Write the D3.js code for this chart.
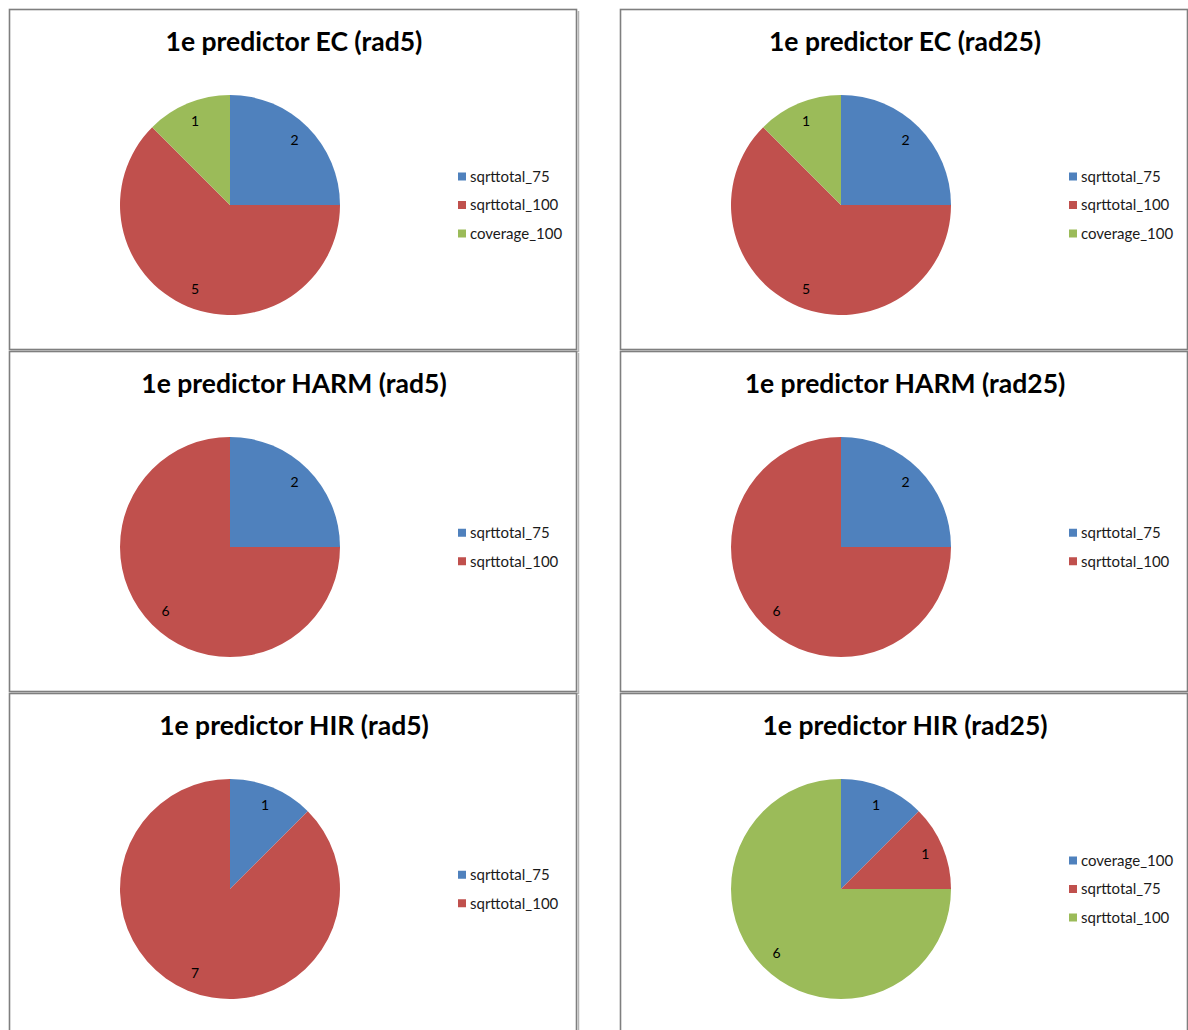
<!DOCTYPE html>
<html>
<head>
<meta charset="utf-8">
<script src="https://cdn.jsdelivr.net/npm/d3@7"></script>
<style>
  body { margin: 0; background: #fff; }
  svg { display: block; }
</style>
</head>
<body>
<svg id="chart" width="1188" height="1030"></svg>
<script>
// chart data, one entry per panel
const titles = [
    "1e predictor EC (rad5)", "1e predictor EC (rad25)",
    "1e predictor HARM (rad5)", "1e predictor HARM (rad25)",
    "1e predictor HIR (rad5)", "1e predictor HIR (rad25)"
];
const categories = [
    ["sqrttotal_75", "sqrttotal_100", "coverage_100"],
    ["sqrttotal_75", "sqrttotal_100", "coverage_100"],
    ["sqrttotal_75", "sqrttotal_100"],
    ["sqrttotal_75", "sqrttotal_100"],
    ["sqrttotal_75", "sqrttotal_100"],
    ["coverage_100", "sqrttotal_75", "sqrttotal_100"]
];
const values = [
    [2, 5, 1],
    [2, 5, 1],
    [2, 6],
    [2, 6],
    [1, 7],
    [1, 1, 6]
];

const sliceColours = ["#4F81BD", "#C0504D", "#9BBB59"];

const svg = d3.select("#chart");

const panelX = [9, 620];
const panelY = [9, 351, 693];
const panelW = 568;
const panelH = 341;
const radius = 110;

const pie = d3.pie().sort(null).value(d => d);
const arc = d3.arc().innerRadius(0).outerRadius(radius);
const labelArc = d3.arc().innerRadius(radius * 0.83).outerRadius(radius * 0.83);

titles.forEach((title, i) => {
    const px = panelX[i % 2];
    const py = panelY[Math.floor(i / 2)];
    const panel = svg.append("g").attr("transform", `translate(${px},${py})`);

    // soft shadow on the right and bottom edges
    panel.append("path")
        .attr("d", `M${panelW + 1.5},2 V${panelH + 1.5} H2`)
        .attr("fill", "none")
        .attr("stroke", "#b5b5b5")
        .attr("stroke-width", 1.5);

    panel.append("rect")
        .attr("x", 0.5).attr("y", 0.5)
        .attr("width", panelW - 1).attr("height", panelH - 1)
        .attr("fill", "#fff")
        .attr("stroke", "#7f7f7f")
        .attr("stroke-width", 1.6);

    panel.append("text")
        .attr("x", panelW / 2 + 1)
        .attr("y", 42)
        .attr("text-anchor", "middle")
        .attr("font-family", "Lato, 'Open Sans', sans-serif")
        .attr("font-weight", "bold")
        .attr("font-size", 26.5)
        .attr("fill", "#000")
        .text(title);

    const pieG = panel.append("g").attr("transform", `translate(221,196)`);
    const arcs = pie(values[i]);

    pieG.selectAll(".slice")
        .data(arcs)
        .join("path")
        .attr("class", "slice")
        .attr("fill", (d, j) => sliceColours[j])
        .attr("d", arc);

    pieG.selectAll(".slice-label")
        .data(arcs)
        .join("text")
        .attr("class", "slice-label")
        .attr("transform", d => `translate(${labelArc.centroid(d)})`)
        .attr("text-anchor", "middle")
        .attr("dy", "0.35em")
        .attr("font-family", "Lato, 'Open Sans', sans-serif")
        .attr("font-size", 14)
        .attr("fill", "#000")
        .text(d => d.data);

    const n = categories[i].length;
    const legendTop = 196 - (n - 1) * 28.5 / 2;
    const legend = panel.selectAll(".legend-item")
        .data(categories[i])
        .join("g")
        .attr("class", "legend-item")
        .attr("transform", (d, j) => `translate(449,${legendTop + j * 28.5})`);

    legend.append("rect")
        .attr("x", 0).attr("y", -4)
        .attr("width", 8).attr("height", 8)
        .attr("fill", (d, j) => sliceColours[j]);

    legend.append("text")
        .attr("x", 12)
        .attr("dy", "0.35em")
        .attr("font-family", "Lato, 'Open Sans', sans-serif")
        .attr("font-size", 15)
        .attr("fill", "#1a1a1a")
        .text(d => d);
});
</script>
</body>
</html>
